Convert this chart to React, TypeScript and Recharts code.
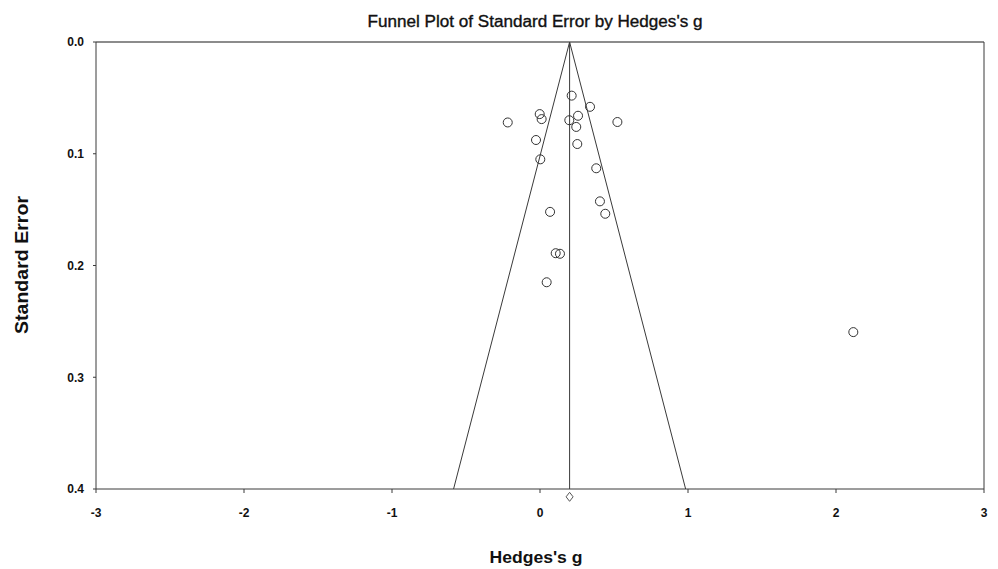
import React from 'react';
import { ScatterChart, Scatter, XAxis, YAxis, ReferenceLine, ReferenceDot } from 'recharts';

const hedgesG = [0.214, 0.338, -0.218, -0.002, 0.011, 0.198, 0.257, 0.245, 0.523, -0.027, 0.252, 0.002, 0.38, 0.405, 0.441, 0.068, 0.106, 0.135, 0.045, 2.117];
const stdErr = [0.048, 0.058, 0.072, 0.0645, 0.069, 0.07, 0.066, 0.076, 0.0716, 0.0877, 0.0913, 0.105, 0.113, 0.1426, 0.1537, 0.152, 0.189, 0.1895, 0.215, 0.2596];
const meanG = 0.2;
const funnelSE = [0.4, 0, 0.4];
const funnelSide = [-1.96, 0, 1.96];
const xTicks = [-3, -2, -1, 0, 1, 2, 3];
const yTicks = [0, 0.1, 0.2, 0.3, 0.4];
const diamondSE = 0.407;

const studies = hedgesG.map((g, i) => ({ x: g, y: stdErr[i] }));
const funnel = funnelSE.map((se, i) => ({ x: meanG + funnelSide[i] * se, y: se }));

const FONT = '"Liberation Sans", Arial, sans-serif';
const INK = '#3a3a3a';

const Circle = (p: any) => (
  <circle cx={p.cx} cy={p.cy} r={4.5} fill="none" stroke="#333" strokeWidth={1} />
);

const Diamond = (p: any) => (
  <path d={`M${p.cx},${p.cy - 4.5} L${p.cx + 3.5},${p.cy} L${p.cx},${p.cy + 4.5} L${p.cx - 3.5},${p.cy} Z`} fill="none" stroke="#555" strokeWidth={1} />
);

export default function App() {
  return (
    <div style={{ position: 'absolute', left: 0, top: 0, width: 998, height: 569, background: '#fff' }}>
      <ScatterChart width={998} height={569} margin={{ top: 42, right: 14, bottom: 0, left: 0 }}>
        <XAxis
          type="number"
          dataKey="x"
          domain={[-3, 3]}
          ticks={xTicks}
          allowDataOverflow
          tickSize={4}
          tickMargin={15}
          height={80}
          stroke={INK}
          tick={{ fontSize: 12, fontWeight: 'bold', fill: '#111', fontFamily: FONT }}
          tickFormatter={(v: number) => String(v)}
        />
        <YAxis
          type="number"
          dataKey="y"
          domain={[0, 0.4]}
          reversed
          ticks={yTicks}
          allowDataOverflow
          tickSize={3}
          tickMargin={9}
          width={96}
          stroke={INK}
          tick={{ fontSize: 12, fontWeight: 'bold', fill: '#111', fontFamily: FONT }}
          tickFormatter={(v: number) => v.toFixed(1)}
        />
        <ReferenceLine y={0} stroke="#666" strokeWidth={1.6} />
        <ReferenceLine x={3} stroke={INK} strokeWidth={1} />
        <ReferenceLine x={meanG} stroke={INK} strokeWidth={1} />
        <Scatter data={funnel} line={{ stroke: INK, strokeWidth: 1 }} shape={() => <g />} isAnimationActive={false} />
        <Scatter data={studies} shape={Circle} isAnimationActive={false} />
        <ReferenceDot x={meanG} y={diamondSE} ifOverflow="visible" shape={Diamond} />
        <text x={535} y={27} textAnchor="middle" fontFamily={FONT} fontSize={16} fill="#111" stroke="#111" strokeWidth={0.35} textLength={335} lengthAdjust="spacingAndGlyphs">
          Funnel Plot of Standard Error by Hedges's g
        </text>
        <text x={536} y={563} textAnchor="middle" fontFamily={FONT} fontSize={16} fontWeight="bold" fill="#111" textLength={93} lengthAdjust="spacingAndGlyphs">
          Hedges's g
        </text>
        <text x={28} y={265} textAnchor="middle" fontFamily={FONT} fontSize={18} fontWeight="bold" fill="#111" transform="rotate(-90 28 265)" textLength={138} lengthAdjust="spacingAndGlyphs">
          Standard Error
        </text>
      </ScatterChart>
    </div>
  );
}
